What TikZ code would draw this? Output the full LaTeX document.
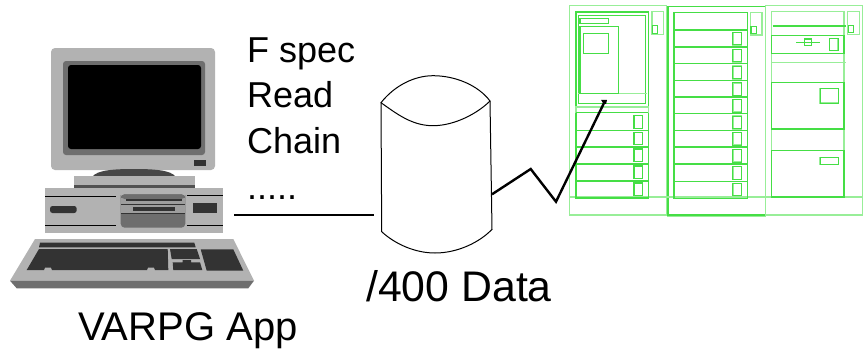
\documentclass[tikz,border=0pt]{standalone}
\usepackage{fontspec}
\setmainfont{Liberation Sans}
\definecolor{gstrong}{HTML}{45DE45}
\definecolor{glight}{HTML}{98EE98}
\definecolor{pcbody}{HTML}{B2B2B2}
\definecolor{pcmid}{HTML}{6E6E6E}
\definecolor{pcdark}{HTML}{333333}
\tikzset{
  gs/.style={draw=gstrong,line width=1.2pt},
  gl/.style={draw=glight,line width=1.2pt},
  wire/.style={draw=black,line width=2pt,line join=miter},
  cyl/.style={draw=black,line width=1pt},
  lbl/.style={inner sep=0pt,anchor=base west,text=black}
}
\begin{document}
\begin{tikzpicture}[x=1pt,y=-1pt]
\useasboundingbox (0,0) rectangle (863,354);
\fill[white] (0,0) rectangle (863,354);
% ---------- racks ----------
\draw[gl] (569.3,5.7) rectangle (666.7,215);
\draw[gl] (668,6.3) rectangle (765.3,216);
\draw[gs] (668,6.3) rectangle (765.3,215);
\draw[gl] (765.3,5.7) rectangle (862.3,215);
\draw[gl] (569.3,197) -- (862.3,197);
% rack 1
\draw[gs,line width=1.6pt] (576,11.7) rectangle (648.3,197.7);
\draw[gs] (578.3,15.7) rectangle (645.7,103.3);
\draw[gl] (578.3,93.3) -- (646.7,93.3);
\draw[gs] (580,18.3) rectangle (608.3,23.7);
\draw[gs] (580,26.7) rectangle (618.3,93.3);
\draw[gs] (583.3,33.3) rectangle (608.7,53.3);
\fill[white] (575,107) rectangle (649,112);
\draw[gl] (576,107) rectangle (648.3,112.7);
\foreach \y in {112.7,130.3,147,164,181}{\draw[gs,line width=1.4pt] (576,\y) -- (648.3,\y);}
\foreach \a/\b in {115.7/128.3,132.3/144.7,149/161.7,166/178.7,183/195.7}{\draw[gs] (634,\a) rectangle (642.7,\b);}
\draw[gl] (652,11.7) rectangle (663.7,34.3);
\draw[gs] (652.7,25.3) rectangle (657.7,33.3);
% rack 2
\draw[gs,line width=1.6pt] (674,12.3) rectangle (747.3,198.3);
\foreach \y in {30,47,63.7,80.3,97,113.7,130.3,147,164,181.3}{\draw[gs] (674,\y) -- (747.3,\y);}
\foreach \a/\b in {32.3/44.7,49.3/61.7,66/78.7,82.7/95.3,99.3/112,116/128.7,132.3/145,149.3/162,166.3/179.3,183.3/195.7}{\draw[gl,line width=1.6pt] (732.7,\a) rectangle (741.3,\b);\draw[gs,line width=.7pt] (732.7,\a) rectangle (741.3,\b);}
\draw[gl] (750.3,12.3) rectangle (762,35);
\draw[gs] (751,26.3) rectangle (756.3,33.7);
% rack 3
\draw[gl] (771.3,11.7) rectangle (844,197);
\draw[gs] (771.3,197) -- (844,197);
\draw[gs] (772.7,26) -- (845.7,26);
\draw[gs] (771.3,35.7) rectangle (844,53.3);
\draw[gl] (772,62.7) -- (845.7,62.7);
\draw[gs] (771.3,82.3) rectangle (844,129);
\draw[gs] (771.3,150.7) rectangle (844,197);
\draw[gl,line width=1.6pt] (829.3,38.3) rectangle (838,50.3);
\draw[gs,line width=.7pt] (829.3,38.3) rectangle (838,50.3);
\draw[gs,line width=1.6pt] (796,42.3) -- (820,42.3);
\draw[gs] (804.3,39) rectangle (811.7,45.7);
\draw[gl,line width=1.6pt] (820,88.3) rectangle (838.3,103);
\draw[gs,line width=.7pt] (820,88.3) rectangle (838.3,103);
\draw[gl,line width=1.6pt] (820,157.3) rectangle (838.3,164.3);
\draw[gs,line width=.7pt] (820,157.3) rectangle (838.3,164.3);
\draw[gl] (847.3,11.7) rectangle (859.3,34.3);
\draw[gs] (848.3,25.3) rectangle (853.7,32.7);
% ---------- computer ----------
\fill[pcbody,rounded corners=4pt] (51,48) rectangle (215,170);
\fill[pcmid,rounded corners=3pt] (63,61) rectangle (205,155);
\fill[black,rounded corners=3pt] (68,65) rectangle (201,149);
\fill[pcdark] (194,160) rectangle (206,166);
\fill[pcdark!90!white] (92.7,176.5) .. controls (97,170) and (115,169) .. (134,169) .. controls (153,169) and (171,170) .. (175.3,176.5) -- cycle;
\fill[pcbody] (74,176) rectangle (195,185);
\fill[pcmid!120!white] (74,185) rectangle (195,188);
\fill[pcbody] (45,187.5) rectangle (223.3,233.3);
\draw[black,line width=1.5pt] (45,196.7) -- (115.7,196.7) (45,225.7) -- (115.7,225.7);
\draw[black,line width=1.5pt] (186.7,195.3) -- (223.3,195.3) (186.7,225.7) -- (223.3,225.7);
\fill[pcdark,rounded corners=2.5pt] (50,206) rectangle (76.7,213);
\fill[pcmid,rounded corners=4pt] (120.7,194.3) rectangle (185.3,227.7);
\fill[pcbody!70!pcmid] (120.7,198) rectangle (185.3,213);
\fill[pcmid,rounded corners=4pt] (120.7,194.3) rectangle (185.3,199);
\fill[pcdark] (125.7,199) rectangle (182.3,201);
\fill[pcdark] (120.7,203.5) rectangle (185.3,204.5);
\fill[pcdark] (132.7,207) rectangle (175,210.7);
\fill[pcdark] (120.7,212.8) rectangle (185.3,213.8);
\fill[pcdark] (193.3,203.3) rectangle (217,213.3);
\fill[pcbody] (35,239) -- (233.3,239) -- (254,280.7) -- (10,280.7) -- cycle;
\fill[pcmid] (10,280.7) -- (254,280.7) -- (248.3,288.3) -- (16.7,288.3) -- cycle;
\fill[pcdark] (40,242.7) -- (194.3,242.7) -- (195.7,247.3) -- (39,247.3) -- cycle;
\fill[pcdark] (39,249) -- (167.7,249) -- (168.3,270) -- (155,270) -- (154,267.5) -- (148,267.5) -- (147,270) -- (52,270) -- (51,267.5) -- (45,267.5) -- (44,270) -- (26.7,270) -- cycle;
\fill[pcdark] (170,249) -- (196.7,249) -- (200,259) -- (171.7,259) -- cycle;
\fill[pcdark] (172.7,262.3) -- (182.7,262.3) -- (182.7,260) -- (191,260) -- (191,262.3) -- (200,262.3) -- (202.3,270) -- (173.3,270) -- cycle;
\fill[pcdark] (200.7,249.3) -- (233.3,249.3) -- (243.3,270.7) -- (206.7,270.7) -- cycle;
% ---------- cylinder ----------
\draw[cyl] (381,102.7) .. controls (395,85) and (415,75.7) .. (433,75.7) .. controls (455,75.7) and (478,85) .. (490,101)
  .. controls (478,113) and (455,125.7) .. (433,125.7) .. controls (412,125.7) and (397,114) .. (381,102.7) -- cycle;
\draw[cyl] (381,102.7) -- (381.7,231.7) .. controls (395,244) and (415,253) .. (435,253) .. controls (458,253) and (480,242) .. (492,229.3) -- (490,101);
% ---------- connectors ----------
\coordinate (pcport) at (234,215);
\coordinate (cylleft) at (374,215);
\coordinate (cylright) at (492,194.3);
\coordinate (bend1) at (530.7,169);
\coordinate (bend2) at (556,201.7);
\coordinate (rackend) at (604,103);
\draw[wire] (pcport) -- (cylleft);
\draw[wire,line width=2.4pt] (cylright) -- (bend1) -- (bend2) -- (rackend);
\fill[black] (601,99.8) -- (607,100) -- (606,104) -- (603,103) -- cycle;
% ---------- labels ----------
\node[lbl,font=\fontsize{36}{36}\selectfont] (t1) at (247,62) {F spec};
\node[lbl,font=\fontsize{36}{36}\selectfont] (t2) at (247,107) {Read};
\node[lbl,font=\fontsize{36}{36}\selectfont] (t3) at (247,153) {Chain};
\node[lbl,font=\fontsize{36}{36}\selectfont] (t4) at (247,199) {.....};
\node[lbl,font=\fontsize{42.8}{43}\selectfont] (t5) at (366,301) {/400 Data};
\node[lbl,font=\fontsize{40}{40}\selectfont] (t6) at (78,340) {VARPG App};
\end{tikzpicture}
\end{document}
